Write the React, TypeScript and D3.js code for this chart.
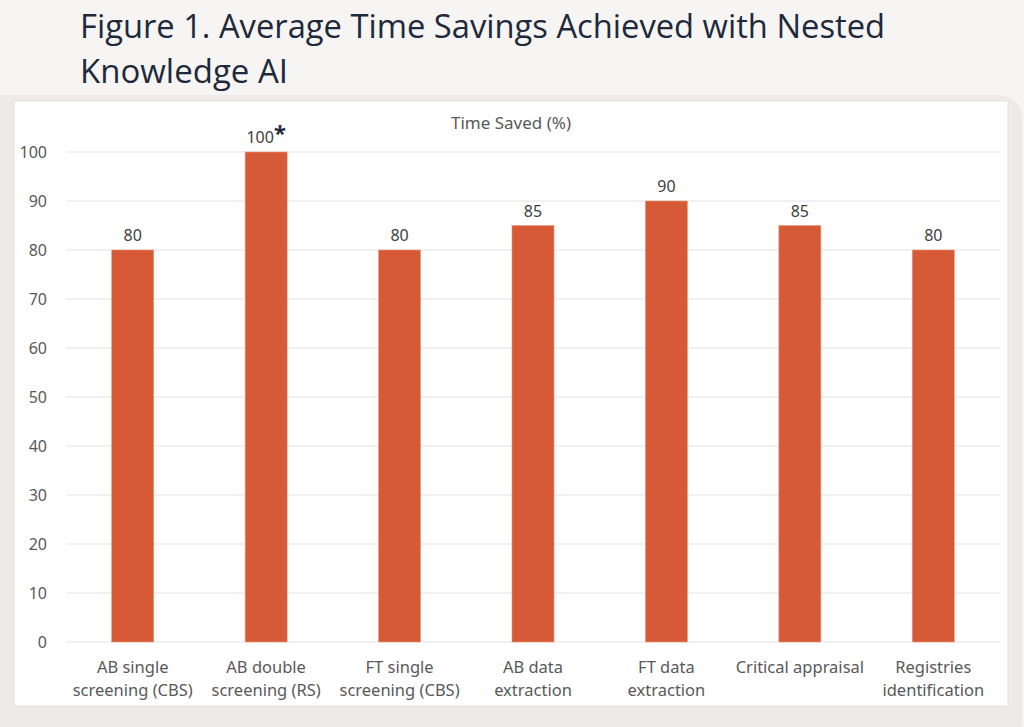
import React from 'react';
import * as d3 from 'd3';

const categories = [
  ['AB single', 'screening (CBS)'],
  ['AB double', 'screening (RS)'],
  ['FT single', 'screening (CBS)'],
  ['AB data', 'extraction'],
  ['FT data', 'extraction'],
  ['Critical appraisal'],
  ['Registries', 'identification'],
];
const timeSaved = [80, 100, 80, 85, 90, 85, 80];
const yTicks = [0, 10, 20, 30, 40, 50, 60, 70, 80, 90, 100];

const W = 1024;
const H = 727;
const plot = { left: 66, right: 1000, top: 152, bottom: 642 };
const font = "'Noto Sans', 'Open Sans', sans-serif";

const App: React.FC = () => {
  const x = d3
    .scaleBand<number>()
    .domain(d3.range(timeSaved.length))
    .range([plot.left, plot.right])
    .paddingInner(0.685)
    .paddingOuter(0.3425);
  const y = d3.scaleLinear().domain([0, 100]).range([plot.bottom, plot.top]);

  return (
    <svg
      width={W}
      height={H}
      style={{ display: 'block', position: 'absolute', left: 0, top: 0 }}
    >
      <rect x={0} y={0} width={W} height={H} fill="#f6f5f3" />
      <text
        x={80}
        y={38}
        fontFamily="'Open Sans', sans-serif"
        fontSize={33}
        fill="#1e2a3b"
        textLength={805}
        lengthAdjust="spacingAndGlyphs"
      >
        Figure 1. Average Time Savings Achieved with Nested
      </text>
      <text
        x={80}
        y={83}
        fontFamily="'Open Sans', sans-serif"
        fontSize={33}
        fill="#1e2a3b"
        textLength={208}
        lengthAdjust="spacingAndGlyphs"
      >
        Knowledge AI
      </text>

      <rect x={-20} y={95} width={1042} height={650} rx={22} fill="#eeeae8" />
      <rect x={14} y={101} width={994} height={605} fill="#ffffff" stroke="#e4e2e0" />

      <text
        x={511}
        y={129}
        textAnchor="middle"
        fontFamily={font}
        fontSize={17}
        fill="#595959"
      >
        Time Saved (%)
      </text>

      {yTicks.map((t) => (
        <g key={t}>
          <line
            x1={plot.left}
            x2={plot.right}
            y1={y(t)}
            y2={y(t)}
            stroke="#e3e3e3"
            strokeWidth={1}
          />
          <text
            x={47}
            y={y(t)}
            dy="0.35em"
            textAnchor="end"
            fontFamily={font}
            fontSize={16}
            fill="#595959"
          >
            {t}
          </text>
        </g>
      ))}

      {timeSaved.map((v, i) => {
        const bx = x(i) ?? 0;
        const cx = bx + x.bandwidth() / 2;
        return (
          <g key={i}>
            <rect
              x={bx}
              y={y(v)}
              width={x.bandwidth()}
              height={y(0) - y(v)}
              fill="#d65a35"
              stroke="#ec9a7c"
              strokeWidth={0.6}
            />
            <text
              x={cx}
              y={y(v) - 9}
              textAnchor="middle"
              fontFamily={font}
              fontSize={16}
              fill="#404040"
            >
              {v}
              {i === 1 ? (
                <tspan fontWeight="bold" fontSize={22} dy={-2} fill="#1e2a3b">
                  *
                </tspan>
              ) : null}
            </text>
            {categories[i].map((line, j) => (
              <text
                key={j}
                x={cx}
                y={673 + j * 23}
                textAnchor="middle"
                fontFamily={font}
                fontSize={16.5}
                fill="#595959"
              >
                {line}
              </text>
            ))}
          </g>
        );
      })}
    </svg>
  );
};

export default App;
